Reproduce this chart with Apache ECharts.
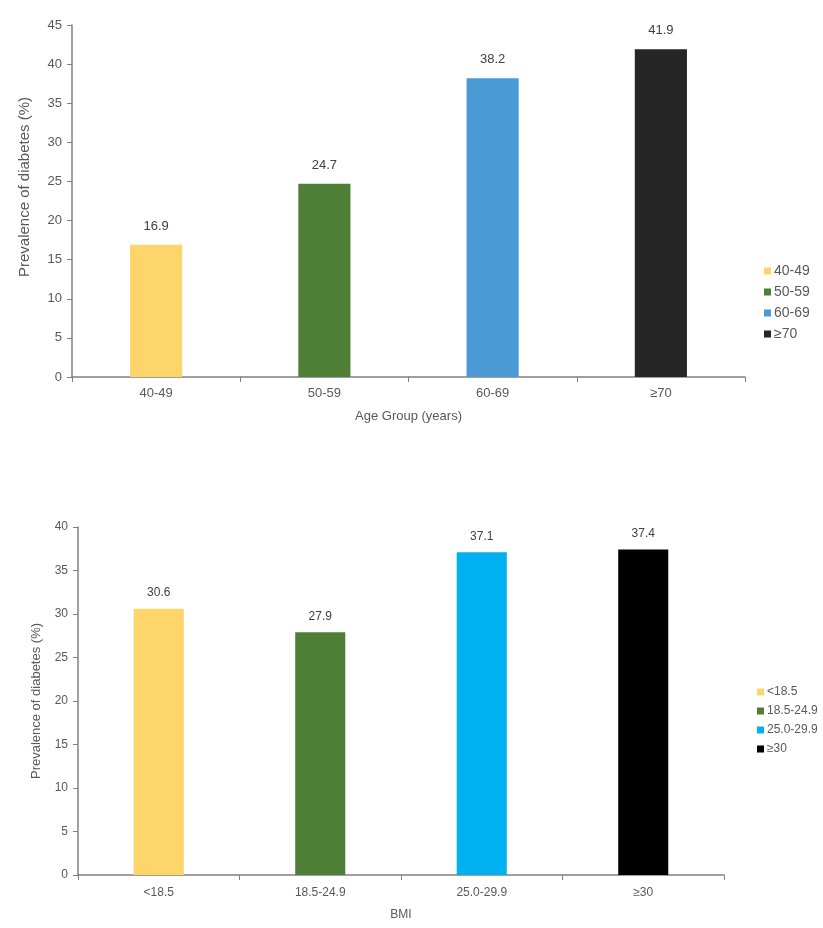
<!DOCTYPE html>
<html><head><meta charset="utf-8">
<script src="https://cdn.jsdelivr.net/npm/echarts@6/dist/echarts.min.js"></script>
<style>html,body{margin:0;padding:0;background:#fff}#c{width:823px;height:928px}</style>
</head><body><div id="c"></div>
<script>
const ageCategories = ['40-49', '50-59', '60-69', '≥70'];
const ageValues = [16.9, 24.7, 38.2, 41.9];
const ageColors = ['#FDD56B', '#4F7F36', '#4A9AD6', '#262626'];
const ageTicks = [0, 5, 10, 15, 20, 25, 30, 35, 40, 45];

const bmiCategories = ['<18.5', '18.5-24.9', '25.0-29.9', '≥30'];
const bmiValues = [30.6, 27.9, 37.1, 37.4];
const bmiColors = ['#FDD56B', '#4F7F36', '#00B0F0', '#000000'];
const bmiTicks = [0, 5, 10, 15, 20, 25, 30, 35, 40];

const gray = '#808080';
const txt = '#595959';

function mkSeries(cats, vals, colors, axisIdx, fs, dist) {
  return cats.map((c, i) => ({
    name: c, type: 'bar', stack: 's' + axisIdx, xAxisIndex: axisIdx, yAxisIndex: axisIdx,
    barWidth: '31%',
    itemStyle: { color: colors[i] },
    label: { show: true, position: 'top', color: '#404040', fontSize: fs, distance: dist },
    data: cats.map((_, j) => j === i ? vals[i] : null)
  }));
}

function xAx(cats, gi, name, fs, gap, margin) {
  return {
    type: 'category', gridIndex: gi, data: cats,
    name: name, nameLocation: 'middle', nameGap: gap,
    nameTextStyle: { color: txt, fontSize: fs },
    axisLine: { lineStyle: { color: gray, width: 1.5 } },
    axisTick: { show: true, alignWithLabel: false, length: 5, lineStyle: { color: gray } },
    axisLabel: { color: txt, fontSize: fs, margin: margin }
  };
}
function yAx(gi, max, name, fs, nfs, gap, pad) {
  return {
    type: 'value', gridIndex: gi, min: 0, max: max, interval: 5,
    name: name, nameLocation: 'middle', nameGap: gap,
    nameTextStyle: { color: txt, fontSize: nfs, padding: [0, 0, 0, pad] },
    axisLine: { show: true, lineStyle: { color: gray, width: 1.5 } },
    axisTick: { show: true, length: 5, lineStyle: { color: gray } },
    axisLabel: { color: txt, fontSize: fs, margin: 10 },
    splitLine: { show: false }
  };
}

const chart = echarts.init(document.getElementById('c'));
chart.setOption({
  animation: false,
  grid: [
    { left: 72, right: 78, top: 25, bottom: 551 },
    { left: 78, right: 99, top: 527, bottom: 53 }
  ],
  legend: [
    { data: ageCategories, orient: 'vertical', left: 759, top: 259, icon: 'rect', itemWidth: 7, itemHeight: 7, itemGap: 7, textStyle: { color: txt, fontSize: 14, padding: [0,0,0,-2] } },
    { data: bmiCategories, orient: 'vertical', left: 752, top: 681, icon: 'rect', itemWidth: 7, itemHeight: 7, itemGap: 7, textStyle: { color: txt, fontSize: 12, padding: [0,0,0,-2] } }
  ],
  xAxis: [
    xAx(ageCategories, 0, 'Age Group (years)', 13, 33, 10),
    xAx(bmiCategories, 1, 'BMI', 12, 34, 12)
  ],
  yAxis: [
    yAx(0, 45, 'Prevalence of diabetes (%)', 13, 15, 40, 28),
    yAx(1, 40, 'Prevalence of diabetes (%)', 12, 13, 35, 0)
  ],
  series: mkSeries(ageCategories, ageValues, ageColors, 0, 13, 12)
    .concat(mkSeries(bmiCategories, bmiValues, bmiColors, 1, 12, 10))
});
</script></body></html>
